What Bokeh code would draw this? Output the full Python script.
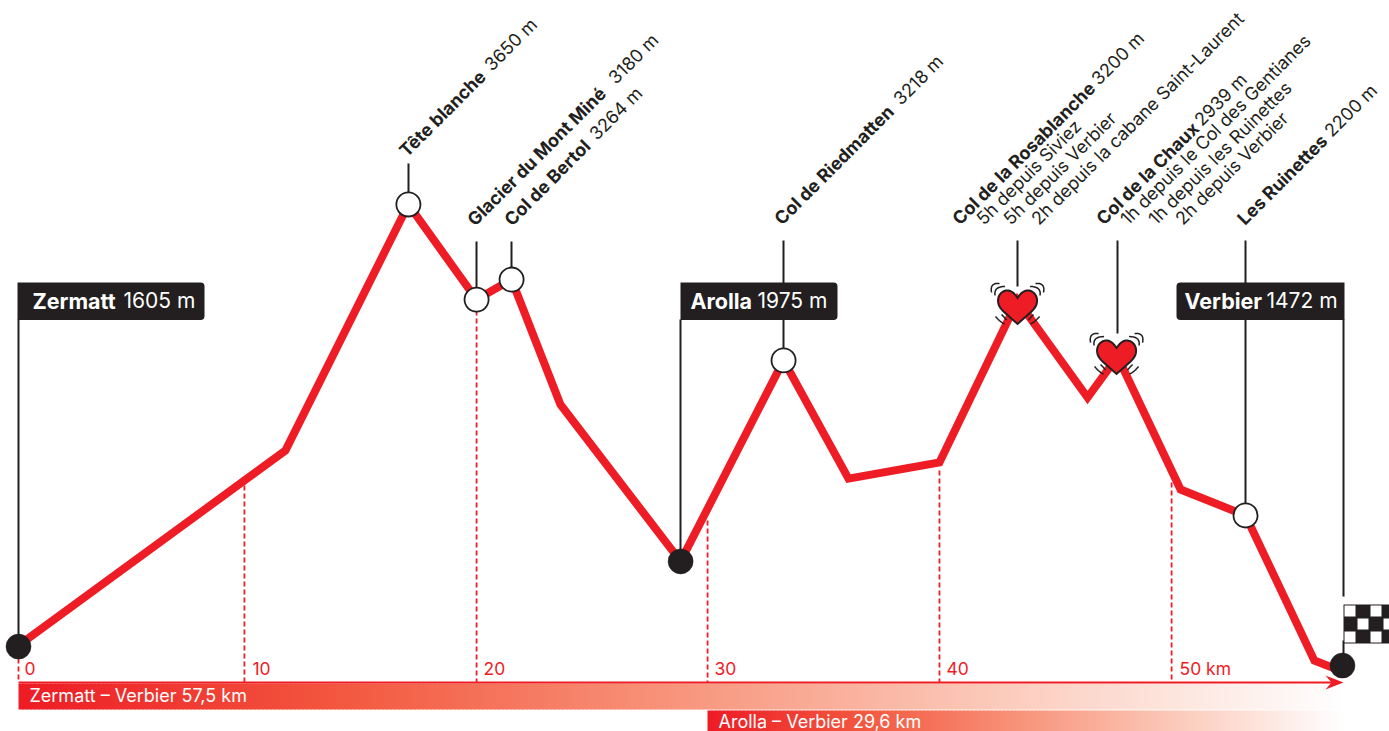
import numpy as np
from bokeh.plotting import figure
from bokeh.embed import file_html
from bokeh.resources import INLINE
from bokeh.core.properties import value

# ---- data ----
profile_km = [0, 11.59, 16.93, 19.89, 21.41, 23.53, 28.75, 33.22, 36.04, 39.99, 43.38, 46.42, 47.72, 50.46, 53.28, 56.27, 57.49]
profile_alt = [1605, 2509, 3650, 3209, 3302, 2723, 1995, 2927, 2379, 2454, 3205, 2755, 2945, 2328, 2208, 1535, 1484]
tick_km = [0, 9.81, 19.89, 29.92, 39.99, 50.07]
tick_labels = ["0", "10", "20", "30", "40", "50 km"]
black_km = [0, 28.75, 57.49]
black_alt = [1600, 1995, 1512]
white_km = [16.93, 19.89, 21.41, 33.22, 53.28]
white_alt = [3650, 3209, 3302, 2927, 2208]
heart_km = [43.38, 47.68]
heart_alt = [3177, 2945]
box_names = ["Zermatt", "Arolla", "Verbier"]
box_values = ["1605 m", "1975 m", "1472 m"]
peak_names = ["Tête blanche", "Glacier du Mont Miné", "Col de Bertol", "Col de Riedmatten",
              "Col de la Rosablanche", "Col de la Chaux", "Les Ruinettes"]
peak_values = ["3650 m", "3180 m", "3264 m", "3218 m", "3200 m", "2939 m", "2200 m"]
sub_lines = ["5h depuis Siviez", "5h depuis Verbier", "2h depuis la cabane Saint-Laurent",
             "1h depuis le Col des Gentianes", "1h depuis les Ruinettes", "2h depuis Verbier"]
route_labels = ["Zermatt – Verbier 57,5 km", "Arolla – Verbier 29,6 km"]

RED = "#ee1c25"
INK = "#231f20"
FONT = "Inter"

def X(px):
    return (np.asarray(px, dtype=float) - 18) / 23.03
def Y(py):
    return 1605 + (645 - np.asarray(py, dtype=float)) * 4.637
def PX(km):
    return 18 + km * 23.03
def PY(a):
    return 645 - (a - 1605) / 4.637

p = figure(width=1389, height=731, output_backend="svg", toolbar_location=None,
           x_range=(float(X(0)), float(X(1389))), y_range=(float(Y(731)), float(Y(0))),
           min_border=0, outline_line_color=None, background_fill_color="white",
           border_fill_color="white", margin=0)
p.xaxis.visible = False
p.yaxis.visible = False
p.grid.visible = False

# gradient bars
stops_t = [0, .25, .5, .75, 1]
stops_c = np.array([[238, 28, 37], [243, 90, 65], [248, 150, 125], [252, 205, 190], [255, 255, 255]])
def gradient(x0, x1, y0, y1, step=4):
    edges = list(range(x0, x1, step)) + [x1]
    cols = []
    for a, b in zip(edges[:-1], edges[1:]):
        t = ((a + b) / 2 - x0) / (x1 - x0)
        c = [int(np.interp(t, stops_t, stops_c[:, i])) for i in range(3)]
        cols.append("#%02x%02x%02x" % tuple(c))
    rights = [min(b + 1, x1) for b in edges[1:]]
    p.quad(left=X(edges[:-1]), right=X(rights), top=[float(Y(y0))] * len(cols),
           bottom=[float(Y(y1))] * len(cols), fill_color=cols, line_color=None)
gradient(18, 1342, 683, 709)
gradient(707, 1342, 710, 731)

# km dashed ticks
tops = [658, 477, 310, 520, 470, 482]
p.segment(x0=tick_km, x1=tick_km, y0=Y(tops), y1=[float(Y(682))] * 6, line_color=RED,
          line_width=1.8, line_dash="5 3")
p.text(x=X([24, 252, 483, 714, 946, 1179]), y=[float(Y(668))] * 6, text=tick_labels, text_color=RED,
       text_font=value(FONT), text_font_size="17.5px", text_baseline="alphabetic")

# axis arrow
p.line(x=X([18, 1335]), y=[float(Y(682))] * 2, line_color=RED, line_width=2)
p.patch(x=X([1343, 1325, 1331, 1325]), y=Y([682, 675, 682, 689]), fill_color=RED, line_color=None)

# stems
stems = [(18, 319, 640), (680, 319, 561), (1343, 319, 596), (408, 163, 192), (476, 241, 288),
         (511, 241, 268), (783, 240, 350), (1017, 240, 286), (1117, 240, 333), (1245, 240, 505),
         (1343, 640, 655)]
p.segment(x0=X([s[0] for s in stems]), x1=X([s[0] for s in stems]),
          y0=Y([s[1] for s in stems]), y1=Y([s[2] for s in stems]), line_color=INK, line_width=2)

# profile
p.line(x=profile_km, y=profile_alt, line_color=RED, line_width=8, line_join="miter", line_cap="butt")

# nodes
r = float(X(12.5 + 18))
p.circle(x=black_km, y=black_alt, radius=r, fill_color=INK, line_color=INK, line_width=0.5)
p.circle(x=white_km, y=white_alt, radius=r - 0.02, fill_color="white", line_color=INK, line_width=1.8)

# hearts
def bez(a, b, c, d, n=14):
    t = np.linspace(0, 1, n)[:, None]
    a, b, c, d = map(np.array, (a, b, c, d))
    return (1 - t) ** 3 * a + 3 * (1 - t) ** 2 * t * b + 3 * (1 - t) * t ** 2 * c + t ** 3 * d
right = np.vstack([bez((0, -8.5), (3, -13), (6, -16), (10, -16)),
                   bez((10, -16), (16, -16), (19.5, -11), (19.5, -6)),
                   bez((19.5, -6), (19.5, -1), (17, 2), (14, 5)),
                   [[0, 17.5]]])
left = right[::-1] * [-1, 1]
heart = np.vstack([right, left[1:]])
def quad_arc(a, b, c, n=10):
    t = np.linspace(0, 1, n)[:, None]
    a, b, c = map(np.array, (a, b, c))
    return (1 - t) ** 2 * a + 2 * (1 - t) * t * b + t ** 2 * c
arc_shapes = [quad_arc((-26, -14), (-28, -24), (-18, -23)),
              quad_arc((-22.5, -11), (-24, -20), (-12.5, -20)),
              quad_arc((-22, 10), (-18, 15), (-13, 17.5)),
              quad_arc((-16, 8), (-13, 11), (-11, 13.5))]
for km, alt in zip(heart_km, heart_alt):
    cx, cy = PX(km), PY(alt)
    xs, ys = [], []
    for a in arc_shapes:
        xs.append(X(cx + a[:, 0])); ys.append(Y(cy + a[:, 1]))
        xs.append(X(cx - a[:, 0])); ys.append(Y(cy + a[:, 1]))
    p.multi_line(xs=xs, ys=ys, line_color=INK, line_width=1.5)
    p.patch(x=X(cx + heart[:, 0]), y=Y(cy + heart[:, 1]), fill_color=RED, line_color=INK, line_width=2,
            line_join="miter")

# checkered flag
p.quad(left=[float(X(1343))], right=[float(X(1389))], top=[float(Y(604))], bottom=[float(Y(643))], fill_color=INK, line_color=None)
wx, wy = [], []
for col, x0 in enumerate([1344, 1357, 1370, 1383]):
    for row, y0 in enumerate([605, 618, 631]):
        if (col + row) % 2 == 0:
            wx.append(x0); wy.append(y0)
p.quad(left=X(wx), right=X(np.minimum(np.array(wx) + 11, 1389)), top=Y(wy), bottom=Y(np.array(wy) + 11),
       fill_color="white", line_color=None)

# label boxes
boxes = [(17, 204, (0, 4, 4, 0)), (680, 837, (0, 4, 4, 0)), (1176, 1344, (4, 0, 0, 4))]
for l, rr, rad in boxes:
    p.quad(left=[float(X(l))], right=[float(X(rr))], top=[float(Y(282))], bottom=[float(Y(319.5))],
           fill_color=INK, line_color=None, border_radius=rad)
bold_x = [32, 690, 1184]
reg_x = [123, 757, 1266]
p.text(x=X(bold_x), y=[float(Y(300))] * 3, text=box_names, text_color="white", text_font=value(FONT),
       text_font_style="bold", text_font_size="21.5px", text_baseline="alphabetic")
p.text(x=X(reg_x), y=[float(Y(300))] * 3, text=box_values, text_color="white", text_font=value(FONT),
       text_font_size="21px", text_baseline="alphabetic")

# rotated labels
ang = np.pi / 4
px_bold = [(402, 153), (470, 222), (507, 222), (777, 221), (955, 221), (1099, 221), (1240, 221)]
px_reg = [(487, 67), (611, 80), (592, 136), (896, 101), (1094, 81), (1197, 122), (1327, 133)]
px_sub = [(979, 221), (1006, 221), (1034, 221), (1123, 221), (1151, 221), (1178, 221)]
SZ = "18px"
p.text(x=X([a for a, _ in px_bold]), y=Y([b for _, b in px_bold]), text=peak_names, angle=ang, text_color=INK,
       text_font=value(FONT), text_font_style="bold", text_font_size="18px", text_baseline="alphabetic")
p.text(x=X([a for a, _ in px_reg]), y=Y([b for _, b in px_reg]), text=peak_values, angle=ang, text_color=INK,
       text_font=value(FONT), text_font_size=SZ, text_baseline="alphabetic")
p.text(x=X([a for a, _ in px_sub]), y=Y([b for _, b in px_sub]), text=sub_lines, angle=ang, text_color=INK,
       text_font=value(FONT), text_font_size=SZ, text_baseline="alphabetic")

# route labels
p.text(x=X([29, 718]), y=Y([695, 721]), text=route_labels, text_color="white", text_font=value(FONT),
       text_font_size="18px", text_baseline="alphabetic")

open("out.html", "w").write(file_html(p, INLINE))
